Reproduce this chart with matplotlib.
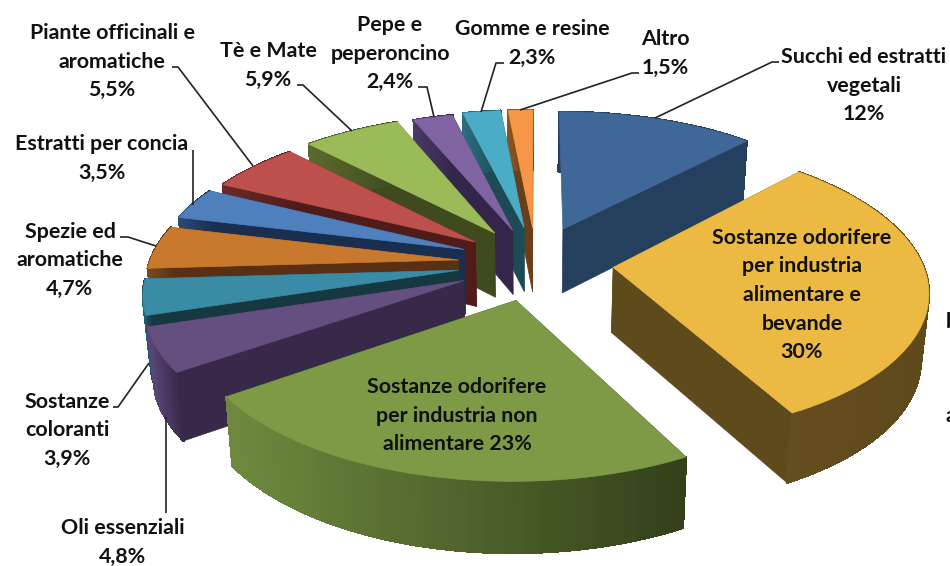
import numpy as np
import matplotlib
matplotlib.use("Agg")
from matplotlib import pyplot as plt
from matplotlib.collections import PolyCollection

plt.rcParams['font.family'] = ['Lato', 'DejaVu Sans']

names = ["Succhi ed estratti\nvegetali", "Sostanze odorifere\nper industria\nalimentare e\nbevande",
         "Sostanze odorifere\nper industria non\nalimentare", "Oli essenziali", "Sostanze\ncoloranti",
         "Spezie ed\naromatiche", "Estratti per concia", "Piante officinali e\naromatiche",
         "Tè e Mate", "Pepe e\npeperoncino", "Gomme e resine", "Altro"]
values = [12, 30, 23, 4.8, 3.9, 4.7, 3.5, 5.5, 5.9, 2.4, 2.3, 1.5]

top_colors = ["#3f6898", "#ecb943", "#7e9a47", "#654f80", "#3a8ba6", "#c8792e",
              "#4f80bd", "#bd4f4c", "#9bbb59", "#8064a2", "#4bacc6", "#f79646"]
side_colors = ["#25405f", "#5f4a1c", "#33401a", "#38294a", "#163840", "#5a3015",
               "#1a2f4f", "#501c1a", "#3f4a1f", "#33264a", "#1c4a55", "#6a3e18"]
arc_colors = ["#25405f", "#644d1e", "#6f8a3f", "#5a4577", "#1f5f70", "#7a4a1c",
              "#2a4a75", "#6a2a28", "#5a6a2c", "#4a3a66", "#2a6f80", "#8a5520"]

# how far each slice is pulled out of the pie, in radius units
explode = [0.28, 0.28, 0.28, 0.26, 0.24, 0.24, 0.24, 0.24, 0.24, 0.24, 0.26, 0.24]
# small pixel corrections per slice (layout only)
nudge = [(2, 7), (-3, 4), (7, 2), (7, 6), (2, 6), (2, 5), (3, 3), (4, 4), (4, 3), (5, 4), (7, 5), (6, 3)]
draw_order = [11, 10, 9, 8, 7, 6, 5, 4, 3, 0, 1, 2]

CX, CY = 530, 258
RAD_X, RAD_Y = 309, 143
PERSP = 0.14


def project(u, v):
    s = 1 / (1 + PERSP * v)
    return CX + RAD_X * u * s, CY - RAD_Y * v * s, s


def drop(x, y, s):
    # lower face of the slab, pulled slightly toward the centre
    return CX + (x - CX) * 0.98, y + 65 * s ** 0.5


def extrude(xs, ys, ss):
    bx, by = drop(xs, ys, ss)
    return np.column_stack([np.r_[xs, bx[::-1]], np.r_[ys, by[::-1]]])


def blend(c1, c2, t):
    a = np.array(matplotlib.colors.to_rgb(c1))
    b = np.array(matplotlib.colors.to_rgb(c2))
    return tuple(a + (b - a) * t)


fig = plt.figure(figsize=(9.5, 5.66), dpi=100)
ax = fig.add_axes([0, 0, 1, 1])
ax.set_xlim(0, 950)
ax.set_ylim(566, 0)
ax.axis("off")

total = sum(values)
edges = np.r_[0, np.cumsum(values)] / total * 2 * np.pi

for i in draw_order:
    a0, a1 = edges[i], edges[i + 1]
    mid = (a0 + a1) / 2
    ou, ov = explode[i] * np.sin(mid), explode[i] * np.cos(mid)
    th = np.linspace(a0, a1, 60)
    au, av = ou + np.sin(th), ov + np.cos(th)
    ax_x, ax_y, ax_s = project(au, av)
    px, py, ps = project(np.array([ou]), np.array([ov]))
    ax_x = ax_x + nudge[i][0]
    ax_y = ax_y + nudge[i][1]
    px = px + nudge[i][0]
    py = py + nudge[i][1]
    z = draw_order.index(i) * 3

    # cut faces (the first slice's start face is edge-on, skip it)
    for k in ((-1,) if i == 0 else (0, -1)):
        fx = np.r_[px, ax_x[k]]
        fy = np.r_[py, ax_y[k]]
        fs = np.r_[ps, ax_s[k]]
        ax.fill(*extrude(fx, fy, fs).T, color=side_colors[i], lw=0.5, zorder=z + 1)

    # outer rim, as a row of small quads so it can be shaded
    bx, by = drop(ax_x, ax_y, ax_s)
    quads = [[(ax_x[j], ax_y[j]), (ax_x[j + 1], ax_y[j + 1]), (bx[j + 1], by[j + 1]), (bx[j], by[j])]
             for j in range(len(th) - 1)]
    span = ax_x.max() - ax_x.min()
    cols = [blend(arc_colors[i], side_colors[i], (ax_x[j] - ax_x.min()) / span) for j in range(len(th) - 1)]
    ax.add_collection(PolyCollection(quads, facecolors=cols, edgecolors=cols, linewidths=1.0,
                                     antialiaseds=False, zorder=z + 2))

    # top face
    ax.fill(np.r_[px, ax_x], np.r_[py, ax_y], color=top_colors[i], lw=0.5, zorder=z + 3)

# labels: centre x, baseline of first line
label_pos = [(864, 63), (802, 244), (457, 393), (123, 534), (67, 408), (70, 238),
             (102, 150), (112, 39), (268, 57), (390, 31), (532, 35), (665, 45)]
leaders = [[(779, 62), (772, 62), (655, 118)],
           None,
           None,
           [(166, 417), (166, 513)],
           [(113, 407), (118, 407), (149, 363)],
           [(120, 237), (128, 237), (156, 246)],
           [(193, 150), (193, 205)],
           [(172, 67), (178, 67), (253, 166)],
           [(297, 85), (303, 85), (352, 131)],
           [(418, 87), (427, 87), (434, 117)],
           [(504, 63), (496, 63), (481, 112)],
           [(639, 73), (632, 73), (520, 110)]]

LINE_STEP = 28.5
for i, name in enumerate(names):
    val = str(values[i]).replace(".", ",") + "%"
    if i == 2:
        text = name + " " + val
    else:
        text = name + "\n" + val
    x, y = label_pos[i]
    for n, line in enumerate(text.split("\n")):
        ax.text(x, y + n * LINE_STEP, line, ha="center", va="baseline", fontsize=15.4,
                fontweight="bold", color="#111111", zorder=100)
    if leaders[i]:
        pts = np.array(leaders[i])
        ax.plot(pts[:, 0], pts[:, 1], color="#222222", lw=1.2, zorder=99, solid_capstyle="butt")

# bits of text cut off by the right edge of the source image
ax.text(946, 328, "b", ha="left", va="baseline", fontsize=15.4, fontweight="bold", color="#111111", clip_on=True)
ax.text(946, 422, "a", ha="left", va="baseline", fontsize=15.4, fontweight="bold", color="#111111", clip_on=True)

fig.savefig("out.png", dpi=100, facecolor="white")
